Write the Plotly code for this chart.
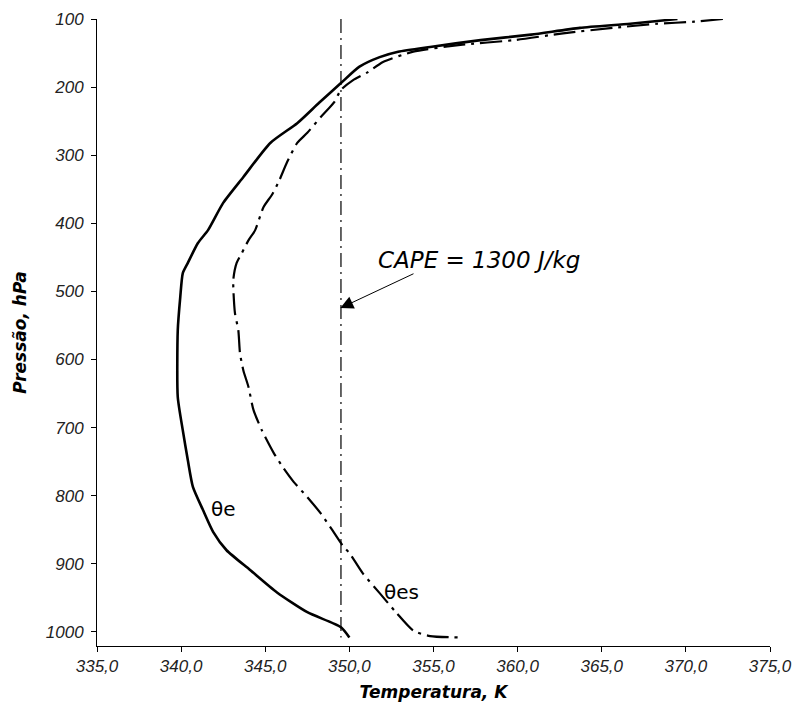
import plotly.graph_objects as go

# ---- data ----
p_theta_e = [100, 107, 113, 123, 131, 141, 148, 156, 170, 194, 223, 253, 282, 332, 370,
             410, 429, 458, 473, 508, 557, 655, 704, 748, 787, 821, 853, 880, 909, 942,
             971, 993, 1008]
t_theta_e = [369.5, 366.7, 363.7, 360.8, 357.8, 354.8, 352.9, 351.8, 350.6, 349.5, 348.2,
             346.9, 345.3, 343.7, 342.5, 341.6, 341.0, 340.4, 340.1, 339.95, 339.8, 339.8,
             340.1, 340.4, 340.7, 341.3, 341.9, 342.7, 344.1, 345.7, 347.5, 349.5, 350.0]

p_theta_es = [100, 104, 107, 113, 121, 131, 138, 148, 163, 178, 190, 204, 222, 244, 267,
              282, 310, 339, 358, 376, 410, 425, 444, 458, 483, 532, 557, 591, 616, 640,
              674, 704, 737, 760, 780, 802, 826, 851, 873, 884, 914, 943, 972, 998, 1006,
              1008]
t_theta_es = [372.2, 370.5, 368.3, 365.7, 362.7, 359.8, 356.6, 353.8, 352.0, 351.1, 350.2,
              349.5, 349.1, 348.3, 347.5, 346.9, 346.3, 345.8, 345.4, 344.9, 344.4, 344.0,
              343.6, 343.3, 343.1, 343.2, 343.4, 343.5, 343.7, 344.0, 344.3, 344.8, 345.5,
              346.1, 346.7, 347.5, 348.3, 349.0, 349.6, 350.0, 350.8, 351.8, 352.8, 353.8,
              354.8, 356.5]

ref_line_t = [349.5, 349.5]
ref_line_p = [100, 1008]

x_ticks = [335, 340, 345, 350, 355, 360, 365, 370, 375]
y_ticks = [100, 200, 300, 400, 500, 600, 700, 800, 900, 1000]

cape_text = "CAPE = 1300 J/kg"
cape_head = (349.46, 524.5)
cape_tail = (353.9, 473)
cape_label_pos = (357.7, 454)
label_e = ("θe", 342.5, 820)
label_es = ("θes", 353.1, 941)

fig = go.Figure()

fig.add_trace(go.Scatter(x=ref_line_t, y=ref_line_p, mode="lines",
                         line=dict(color="black", width=1.2, dash="14px,5px,2px,5px"),
                         showlegend=False, hoverinfo="skip"))
fig.add_trace(go.Scatter(x=t_theta_es, y=p_theta_es, mode="lines",
                         line=dict(color="black", width=2.2, dash="22px,6px,3px,6px",
                                   shape="spline", smoothing=0.6),
                         showlegend=False))
fig.add_trace(go.Scatter(x=t_theta_e, y=p_theta_e, mode="lines",
                         line=dict(color="black", width=2.6, shape="spline", smoothing=0.6),
                         showlegend=False))

# arrow
fig.add_annotation(x=cape_head[0], y=cape_head[1], ax=cape_tail[0], ay=cape_tail[1],
                   axref="x", ayref="y", xref="x", yref="y", text="",
                   showarrow=True, arrowhead=2, arrowsize=2.6, arrowwidth=1,
                   arrowcolor="black", standoff=0)
fig.add_annotation(x=cape_label_pos[0], y=cape_label_pos[1], xref="x", yref="y",
                   text=cape_text, showarrow=False,
                   font=dict(family="DejaVu Sans", size=23, color="black", style="italic"))
fig.add_annotation(x=label_e[1], y=label_e[2], xref="x", yref="y", text=label_e[0],
                   showarrow=False, font=dict(family="DejaVu Sans", size=20, color="black"))
fig.add_annotation(x=label_es[1], y=label_es[2], xref="x", yref="y", text=label_es[0],
                   showarrow=False, font=dict(family="DejaVu Sans", size=20, color="black"))

tickfont = dict(family="Liberation Sans", size=17, color="#222222", style="italic")
titlefont = dict(family="DejaVu Sans", size=17, color="black", style="italic", weight="bold")

fig.update_xaxes(range=[335, 375], tickvals=x_ticks, tickformat=".1f",
                 showline=True, linecolor="black", linewidth=1, automargin=False,
                 ticks="outside", ticklen=5, tickcolor="black",
                 showgrid=False, zeroline=False, tickfont=tickfont,
                 title=dict(text="Temperatura, K", font=titlefont, standoff=10))
fig.update_yaxes(range=[1020.6, 100], tickvals=y_ticks, tickformat="d",
                 showline=True, linecolor="black", linewidth=1, automargin=False,
                 ticks="outside", ticklen=5, tickcolor="black",
                 showgrid=False, zeroline=False, tickfont=tickfont,
                 ticklabelstandoff=4,
                 title=dict(text="Pressão, hPa", font=titlefont, standoff=14))

fig.update_layout(width=793, height=708, separators=",.",
                  margin=dict(l=97, r=23, t=19, b=62),
                  plot_bgcolor="white", paper_bgcolor="white")

fig.write_html("out.html")
